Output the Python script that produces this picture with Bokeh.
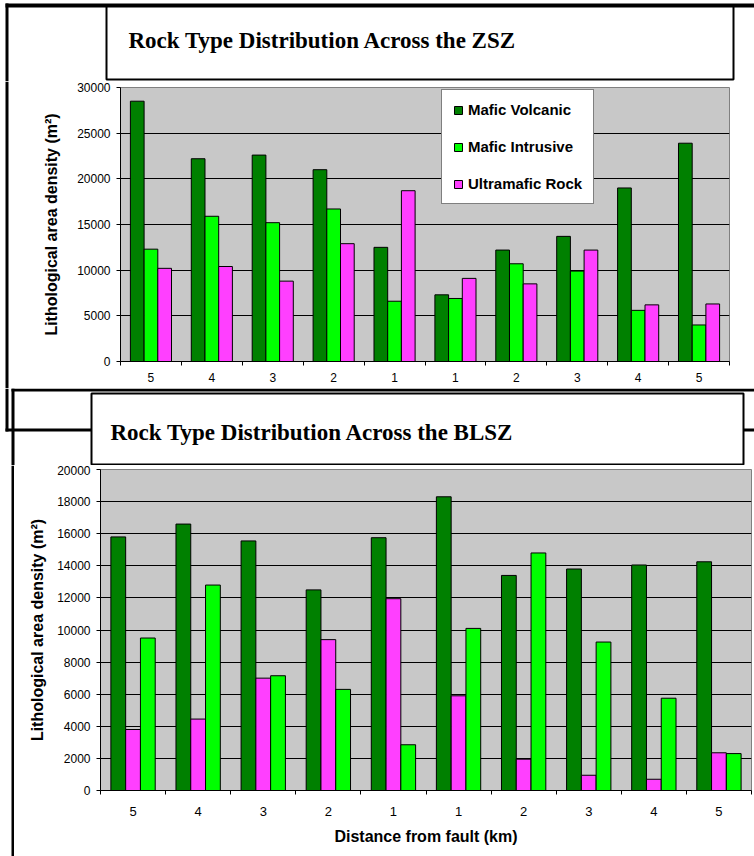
from bokeh.plotting import figure
from bokeh.models import (FixedTicker, Label, Legend, LegendItem,
                          ColumnDataSource, Range1d, NumeralTickFormatter)
from bokeh.layouts import column, row
from bokeh.transform import dodge
from bokeh.embed import file_html
from bokeh.resources import INLINE

# ---------------- data ----------------
distance_labels = ["5", "4", "3", "2", "1", "1", "2", "3", "4", "5"]

zsz_mafic_volcanic = [28500, 22200, 22600, 21000, 12500, 7300, 12200, 13700, 19000, 23900]
zsz_mafic_intrusive = [12300, 15900, 15200, 16700, 6600, 6900, 10700, 9900, 5600, 4000]
zsz_ultramafic = [10200, 10400, 8800, 12900, 18700, 9100, 8500, 12200, 6200, 6300]

blsz_mafic_volcanic = [15800, 16600, 15550, 12500, 15750, 18300, 13400, 13800, 14050, 14250]
blsz_ultramafic = [3800, 4450, 7000, 9400, 11950, 5900, 1950, 950, 700, 2350]
blsz_mafic_intrusive = [9500, 12800, 7150, 6300, 2850, 10100, 14800, 9250, 5750, 2300]

series_names = ["Mafic Volcanic", "Mafic Intrusive", "Ultramafic Rock"]
titles = ["Rock Type Distribution Across the ZSZ", "Rock Type Distribution Across the BLSZ"]
y_title = "Lithological area density (m\u00b2)"
x_title = "Distance from fault (km)"

C_MV = "#008000"
C_MI = "#00FF00"
C_UM = "#FF3FFF"
PLOT_BG = "#C8C8C8"
SANS = "Liberation Sans"
SERIF = "Liberation Serif"

W = 754
xpos = list(range(len(distance_labels)))


def canvas_fig(width, height):
    """A blank figure whose frame is its whole canvas, in pixel coordinates (y down)."""
    p = figure(width=width, height=height, x_range=Range1d(0, width), y_range=Range1d(height, 0),
               output_backend="svg", toolbar_location=None,
               x_axis_location=None, y_axis_location=None,
               min_border=0, outline_line_color=None,
               background_fill_color="white", border_fill_color="white", frame_align=False)
    p.title = None
    p.grid.visible = False
    return p


def rects(p, lefts, rights, tops, bottoms, fill="black", line=None, lw=0):
    p.quad(left=lefts, right=rights, top=tops, bottom=bottoms,
           fill_color=fill, line_color=line, line_width=lw)


def title_text(p, x, y, text):
    p.add_layout(Label(x=x, y=y, text=text,
                       text_font=SERIF, text_font_style="bold", text_font_size="23px",
                       text_color="black", text_baseline="alphabetic", text_align="left"))


def style_axes(p, ymax, ystep, ytick_font, xtick_font, xstandoff):
    p.xaxis.ticker = FixedTicker(ticks=xpos, minor_ticks=[i - 0.5 for i in range(len(xpos) + 1)])
    p.xaxis.major_label_overrides = {i: lab for i, lab in enumerate(distance_labels)}
    p.xaxis.major_tick_line_color = None
    p.xaxis.major_tick_out = 0
    p.xaxis.major_tick_in = 0
    p.xaxis.minor_tick_line_color = "black"
    p.xaxis.minor_tick_out = 4
    p.xaxis.minor_tick_in = 0
    p.xaxis.axis_line_color = "black"
    p.xaxis.major_label_text_font = SANS
    p.xaxis.major_label_text_font_size = xtick_font
    p.xaxis.major_label_text_color = "black"
    p.xaxis.major_label_standoff = xstandoff

    yt = FixedTicker(ticks=list(range(0, ymax + 1, ystep)))
    p.yaxis.ticker = yt
    p.yaxis.formatter = NumeralTickFormatter(format="0")
    p.yaxis.minor_tick_line_color = None
    p.yaxis.major_tick_out = 4
    p.yaxis.major_tick_in = 0
    p.yaxis.major_tick_line_color = "black"
    p.yaxis.axis_line_color = "black"
    p.yaxis.major_label_text_font = SANS
    p.yaxis.major_label_text_font_size = ytick_font
    p.yaxis.major_label_text_color = "black"
    p.yaxis.major_label_standoff = 6
    p.yaxis.axis_label = y_title
    p.yaxis.axis_label_text_font = SANS
    p.yaxis.axis_label_text_font_style = "bold"
    p.yaxis.axis_label_text_font_size = "16px"
    p.yaxis.axis_label_text_color = "black"

    p.ygrid.ticker = yt
    p.ygrid.grid_line_color = "black"
    p.ygrid.grid_line_width = 1
    p.xgrid.grid_line_color = None


# ================= top chart (ZSZ) =================
# header strip: chart-area frame (top + left) and title box
h1 = canvas_fig(W, 81)
rects(h1, [5, 5], [W, 8], [3, 3], [7, 81])
rects(h1, [106], [733], [6], [79], fill="white", line="black", lw=2)
title_text(h1, 128, 40, titles[0])

# left strip: chart-area frame (left edge)
s1 = canvas_fig(9, 307)
rects(s1, [5], [8], [0], [307])

p1 = figure(width=W - 9, height=307, x_range=Range1d(-0.5, 9.5), y_range=Range1d(0, 30000),
            output_backend="svg", toolbar_location=None,
            min_border_left=111, min_border_right=25, min_border_top=6, min_border_bottom=27,
            background_fill_color=PLOT_BG, border_fill_color="white",
            outline_line_color="#808080", frame_align=False)
p1.title = None
style_axes(p1, 30000, 5000, "12px", "12px", 7)
p1.yaxis.axis_label_standoff = 14

src1 = ColumnDataSource(dict(x=xpos, mv=zsz_mafic_volcanic, mi=zsz_mafic_intrusive, um=zsz_ultramafic))
bw1 = 0.225
r_mv = p1.vbar(x=dodge("x", -bw1, range=p1.x_range), top="mv", width=bw1, source=src1,
               fill_color=C_MV, line_color="black", line_width=1)
r_mi = p1.vbar(x=dodge("x", 0, range=p1.x_range), top="mi", width=bw1, source=src1,
               fill_color=C_MI, line_color="black", line_width=1)
r_um = p1.vbar(x=dodge("x", bw1, range=p1.x_range), top="um", width=bw1, source=src1,
               fill_color=C_UM, line_color="black", line_width=1)

legend = Legend(items=[LegendItem(label=series_names[0], renderers=[r_mv]),
                       LegendItem(label=series_names[1], renderers=[r_mi]),
                       LegendItem(label=series_names[2], renderers=[r_um])],
                location=(321, 157))
legend.border_line_color = "black"
legend.border_line_width = 1
legend.background_fill_color = "white"
legend.background_fill_alpha = 1.0
legend.label_text_font = SANS
legend.label_text_font_style = "bold"
legend.label_text_font_size = "15px"
legend.label_text_color = "black"
legend.glyph_width = 10
legend.glyph_height = 10
legend.label_height = 14
legend.spacing = 20
legend.padding = 11
legend.margin = 0
legend.label_standoff = 5
p1.add_layout(legend, "center")

# ================= bottom chart (BLSZ) =================
# header strip: tail of the top chart's frame, bottom chart's frame and title box
h2 = canvas_fig(W, 77)
rects(h2, [5, 5, 11, 11], [8, W, W, 14], [0, 40, 0, 0], [43, 43, 3, 77])
rects(h2, [91], [743], [5], [76], fill="white", line="black", lw=2)
title_text(h2, 110, 44, titles[1])

s2 = canvas_fig(14, 391)
rects(s2, [11], [14], [0], [391])

p2 = figure(width=W - 14, height=391, x_range=Range1d(-0.5, 9.5), y_range=Range1d(0, 20000),
            output_backend="svg", toolbar_location=None,
            min_border_left=86, min_border_right=3, min_border_top=4, min_border_bottom=66,
            background_fill_color=PLOT_BG, border_fill_color="white",
            outline_line_color="#808080", frame_align=False)
p2.title = None
style_axes(p2, 20000, 2000, "12px", "13px", 12)
p2.yaxis.axis_label_standoff = 8
p2.xaxis.axis_label = x_title
p2.xaxis.axis_label_text_font = SANS
p2.xaxis.axis_label_text_font_style = "bold"
p2.xaxis.axis_label_text_font_size = "16px"
p2.xaxis.axis_label_text_color = "black"
p2.xaxis.axis_label_standoff = 9

src2 = ColumnDataSource(dict(x=xpos, mv=blsz_mafic_volcanic, um=blsz_ultramafic, mi=blsz_mafic_intrusive))
bw2 = 0.227
p2.vbar(x=dodge("x", -bw2, range=p2.x_range), top="mv", width=bw2, source=src2,
        fill_color=C_MV, line_color="black", line_width=1)
p2.vbar(x=dodge("x", 0, range=p2.x_range), top="um", width=bw2, source=src2,
        fill_color=C_UM, line_color="black", line_width=1)
p2.vbar(x=dodge("x", bw2, range=p2.x_range), top="mi", width=bw2, source=src2,
        fill_color=C_MI, line_color="black", line_width=1)

layout = column(h1, row(s1, p1, spacing=0), h2, row(s2, p2, spacing=0), spacing=0)
open("out.html", "w").write(file_html(layout, INLINE))
